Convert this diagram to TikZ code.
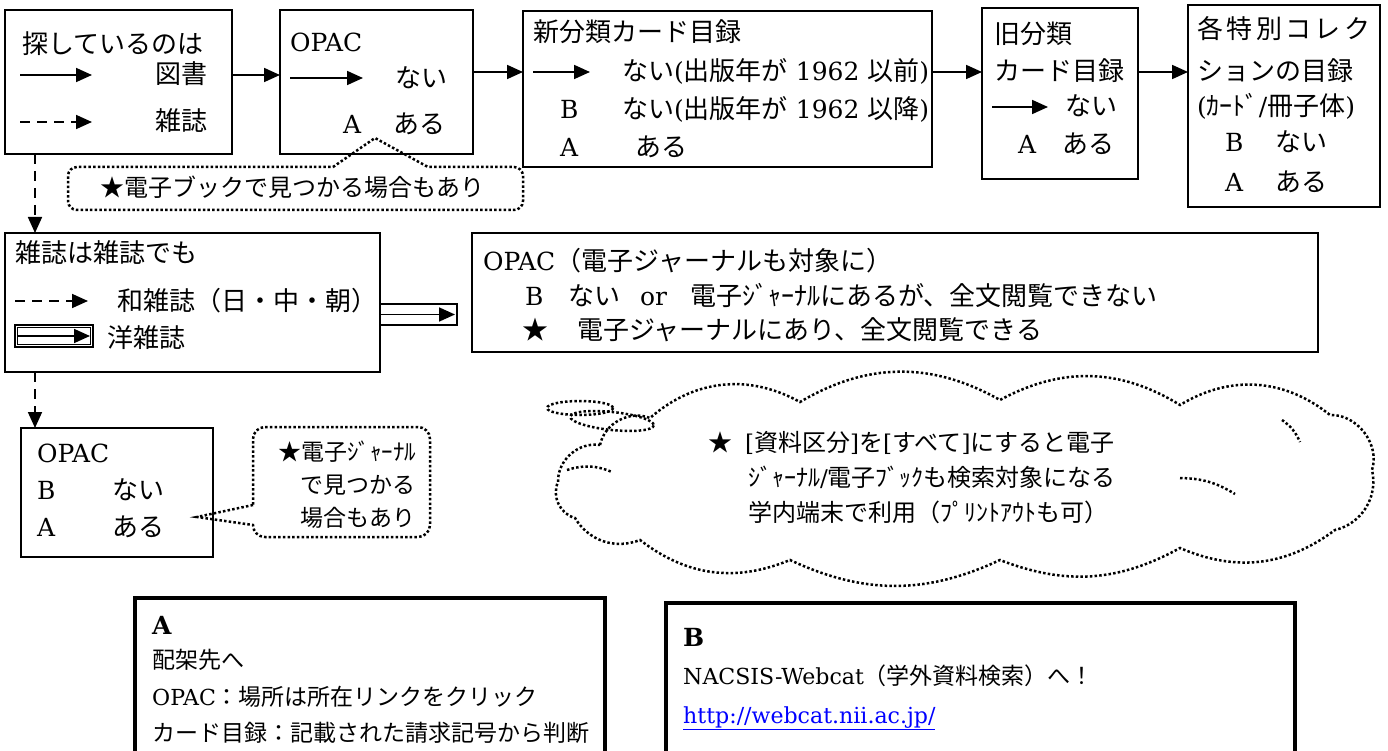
\documentclass[tikz,border=0pt]{standalone}
\usepackage{fontspec}
\setmainfont{DejaVu Serif}[Scale=0.96]
\newfontfamily\jf{Noto Sans CJK JP}
\newcommand\J[1]{{\jf #1}}
\newcommand\fz[1]{\fontsize{#1}{#1}\selectfont}
\usetikzlibrary{arrows.meta}
\tikzset{
  box/.style={draw, line width=1.6pt, anchor=north west, outer sep=0pt, inner sep=0pt},
  bbox/.style={draw, line width=4.5pt, anchor=north west, outer sep=0pt, inner sep=0pt},
  t/.style={anchor=west, inner sep=0pt, font=\fz{26}, text height=22pt, text depth=4pt},
  tm/.style={anchor=west, inner sep=0pt, font=\fz{24}, text height=20.5pt, text depth=3.5pt},
  ts/.style={anchor=west, inner sep=0pt, font=\fz{23}, text height=19.5pt, text depth=3.5pt},
  arr/.style={line width=1.8pt, -{Triangle[length=16pt,width=14pt]}},
  dasharr/.style={arr, dash pattern=on 10pt off 7pt},
  dotline/.style={line width=2.5pt, dash pattern=on 2.5pt off 2.2pt},
}
\begin{document}
\begin{tikzpicture}[x=1pt,y=-1pt]
\useasboundingbox (0,0) rectangle (1388,751);
\fill[white] (0,0) rectangle (1388,751);
\clip (0,0) rectangle (1388,751);

% ---------- Box 1
\node[box, minimum width=227, minimum height=144] (b1) at (5,10) {};
\node[t] (t1a) at (22,45) {\J{探しているのは}};
\coordinate (l1s) at (20,75); \coordinate (l1e) at (92,75);
\draw[arr] (l1s) -- (l1e);
\node[t] (t1b) at (155,75) {\J{図書}};
\coordinate (l2s) at (20,122); \coordinate (l2e) at (92,122);
\draw[dasharr] (l2s) -- (l2e);
\node[t] (t1c) at (155,122) {\J{雑誌}};

% ---------- Box 2
\node[box, minimum width=193, minimum height=144] (b2) at (280,10) {};
\node[t] (t2a) at (290,43) {OPAC};
\coordinate (l3s) at (290,78); \coordinate (l3e) at (363,78);
\draw[arr] (l3s) -- (l3e);
\node[t] (t2b) at (395,79) {\J{ない}};
\node[t] (t2c) at (343,125) {A};
\node[t] (t2d) at (393,125) {\J{ある}};

% ---------- Box 3
\node[box, minimum width=409, minimum height=156] (b3) at (523,11) {};
\node[t] (t3a) at (533,33) {\J{新分類カード目録}};
\coordinate (l4s) at (533,72); \coordinate (l4e) at (590,72);
\draw[arr] (l4s) -- (l4e);
\node[t] (t3b) at (622,72) {\J{ない}(\J{出版年が} 1962 \J{以前})};
\node[t] (t3c) at (560,110) {B};
\node[t] (t3d) at (622,110) {\J{ない}(\J{出版年が} 1962 \J{以降})};
\node[t] (t3e) at (560,148) {A};
\node[t] (t3f) at (635,148) {\J{ある}};

% ---------- Box 4
\node[box, minimum width=156, minimum height=171] (b4) at (982,8) {};
\node[t] (t4a) at (994,35) {\J{旧分類}};
\node[t] (t4b) at (994,72) {\J{カード目録}};
\coordinate (l5s) at (992,107); \coordinate (l5e) at (1048,107);
\draw[arr] (l5s) -- (l5e);
\node[t] (t4c) at (1065,107) {\J{ない}};
\node[t] (t4d) at (1018,145) {A};
\node[t] (t4e) at (1062,145) {\J{ある}};

% ---------- Box 5
\node[box, minimum width=192, minimum height=202] (b5) at (1188,5) {};
\node[t] (t5a) at (1197,30) {\makebox[173pt][s]{\J{各\hfil 特\hfil 別\hfil コ\hfil レ\hfil ク}}};
\node[t] (t5b) at (1197,72) {\J{ションの目録}};
\node[t] (t5c) at (1197,107) {(\J{ｶｰﾄﾞ}/\J{冊子体})};
\node[t] (t5d) at (1225,143) {B};
\node[t] (t5e) at (1275,143) {\J{ない}};
\node[t] (t5f) at (1225,183) {A};
\node[t] (t5g) at (1275,183) {\J{ある}};

% ---------- connectors top row
\coordinate (r1) at (0,72);
\draw[arr] (b1.east |- l1s) -- (b2.west |- l1s);
\draw[arr] (b2.east |- r1) -- (b3.west |- r1);
\draw[arr] (b3.east |- r1) -- (b4.west |- r1);
\draw[arr] (b4.east |- r1) -- (b5.west |- r1);

% ---------- callout 1
\coordinate (c1p) at (375,138);
\draw[dotline] (333,167) -- (c1p) -- (428,167) [rounded corners=9pt] -- (523,167) -- (523,210) -- (68,210) -- (68,167) [sharp corners] -- (333,167);
\node[tm] (c1t) at (100,188) {\J{★電子ブックで見つかる場合もあり}};

% ---------- Box 6
\node[box, minimum width=375, minimum height=139] (b6) at (5,233) {};
\draw[dasharr] ([xshift=30pt]b1.south west) coordinate (d1s) -- (d1s |- b6.north);
\node[t] (t6a) at (15,253) {\J{雑誌は雑誌でも}};
\coordinate (l6s) at (15,301); \coordinate (l6e) at (88,301);
\draw[dasharr] (l6s) -- (l6e);
\node[t] (t6b) at (117,301) {\J{和雑誌（日・中・朝）}};
\draw[line width=1.4pt] (15,325) rectangle (93,347);
\draw[line width=0.8pt] (17.5,327.5) rectangle (90.5,344.5);
\coordinate (l7s) at (18,336); \coordinate (l7e) at (90,336);
\draw[arr] (l7s) -- (l7e);
\node[t] (t6c) at (107,338) {\J{洋雑誌}};

% ---------- Box 7 and double arrow
\node[box, minimum width=846, minimum height=119] (b7) at (472,233) {};
\coordinate (dbl) at (457,325);
\draw[line width=1.8pt] (b6.east |- 0,304) rectangle (dbl);
\coordinate (dbe) at (455,314.5);
\draw[arr] (b6.east |- dbe) -- (dbe);
\node[t] (t7a) at (483,261) {OPAC\J{（電子ジャーナルも対象に）}};
\node[t] (t7b) at (525,296) {B};
\node[t] (t7c) at (568,296) {\J{ない}};
\node[t] (t7d) at (640,296) {or};
\node[t] (t7e) at (690,296) {\J{電子ｼﾞｬｰﾅﾙにあるが、全文閲覧できない}};
\node[t] (t7f) at (522,330) {\J{★}};
\node[t] (t7g) at (577,330) {\J{電子ジャーナルにあり、全文閲覧できる}};

% ---------- Box 8
\node[box, minimum width=192, minimum height=129] (b8) at (21,428) {};
\draw[dasharr] ([xshift=30pt]b6.south west) coordinate (d2s) -- (d2s |- b8.north);
\node[t] (t8a) at (37,453) {OPAC};
\node[t] (t8b) at (37,490) {B};
\node[t] (t8c) at (112,490) {\J{ない}};
\node[t] (t8d) at (37,527) {A};
\node[t] (t8e) at (112,527) {\J{ある}};

% ---------- callout 2
\coordinate (c2p) at (197,517);
\draw[dotline] (253,505) -- (c2p) -- (253,525) [rounded corners=12pt] -- (253,537) -- (430,537) -- (430,427) -- (253,427) [sharp corners] -- (253,505);
\node[ts] (c2a) at (278,452) {\J{★電子ｼﾞｬｰﾅﾙ}};
\node[ts] (c2b) at (300,485) {\J{で見つかる}};
\node[ts] (c2c) at (300,518) {\J{場合もあり}};

% ---------- cloud
\draw[dotline] (600,445) to[bend left=50] (650,418) to[bend left=35] (800,402)
  to[bend left=30] (1000,400) to[bend left=30] (1180,405) to[bend left=35] (1330,415)
  to[bend left=55] (1372,470) to[bend left=45] (1335,530) to[bend left=30] (1180,548)
  to[bend left=25] (1000,560) to[bend left=25] (790,560) to[bend left=30] (640,540)
  to[bend left=40] (575,518) to[bend left=50] (558,482) to[bend left=50] (600,445);
\draw[dotline] (567,470) to[bend left=20] (612,472);
\draw[dotline] (1180,478) to[bend left=15] (1235,494);
\draw[dotline] (1282,420) to[bend left=15] (1300,442);
\draw[dotline] (580,408) ellipse [x radius=33, y radius=7];
\draw[dotline, rotate around={-6:(612,421)}] (612,421) ellipse [x radius=42, y radius=9];
\node[tm] (clt0) at (708,443) {\J{★}};
\node[tm] (clt1) at (745,443) {[\J{資料区分}]\J{を}[\J{すべて}]\J{にすると電子}};
\node[tm] (clt2) at (748,478) {\J{ｼﾞｬｰﾅﾙ}/\J{電子ﾌﾞｯｸも検索対象になる}};
\node[tm] (clt3) at (748,513) {\J{学内端末で利用（ﾌﾟﾘﾝﾄｱｳﾄも可）}};

% ---------- Box A
\node[bbox, minimum width=470, minimum height=170] (ba) at (135,598) {};
\node[t] (ta1) at (152,625) {\textbf{A}};
\node[ts] (ta2) at (152,660) {\J{配架先へ}};
\node[ts] (ta3) at (152,697) {OPAC\J{：場所は所在リンクをクリック}};
\node[ts] (ta4) at (152,733) {\J{カード目録：記載された請求記号から判断}};

% ---------- Box B
\node[bbox, minimum width=629, minimum height=170] (bb) at (666,603) {};
\node[t] (tb1) at (683,637) {\textbf{B}};
\node[ts] (tb2) at (683,676) {NACSIS-Webcat\J{（学外資料検索）へ！}};
\node[ts, text=blue] (tb3) at (683,715) {\underline{http://webcat.nii.ac.jp/}};
\end{tikzpicture}
\end{document}
